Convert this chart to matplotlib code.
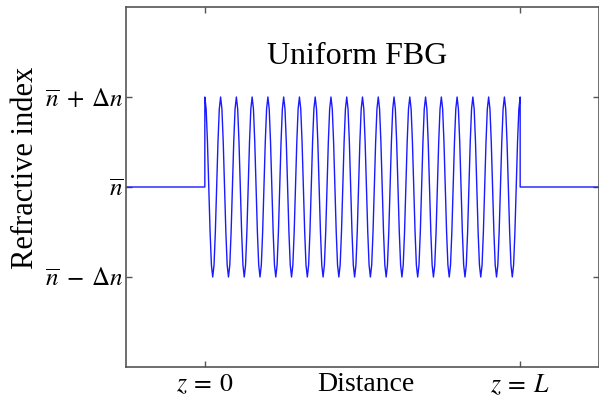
import numpy as np
import matplotlib
matplotlib.use("Agg")
import matplotlib.pyplot as plt

# values
n_bar = 0.0
delta_n = 1.0
z_start = 0.0
z_end = 1.0
n_periods = 20
x_limits = [-0.25, 1.25]
y_limits = [-2.0, 2.0]
x_ticks = [0.0, 1.0]
x_tick_labels = [r"$z\:=\:0$", r"$z\:=\:L$"]
y_ticks = [-1.0, 0.0, 1.0]
y_tick_labels = [r"$\overline{n}\;-\;\Delta n$", r"$\overline{n}$", r"$\overline{n}\;+\;\Delta n$"]
title_text = "Uniform FBG"
x_label = "Distance"
y_label = "Refractive index"

plt.rcParams["mathtext.fontset"] = "stix"
plt.rcParams["font.family"] = ["Liberation Serif", "DejaVu Serif"]

z_grating = np.linspace(z_start, z_end, n_periods * 12 + 1)
n_grating = n_bar + delta_n * np.cos(2 * np.pi * n_periods * (z_grating - z_start) / (z_end - z_start))
z = np.concatenate([[x_limits[0], z_start], z_grating, [z_end, x_limits[1]]])
n = np.concatenate([[n_bar, n_bar], n_grating, [n_bar, n_bar]])

fig = plt.figure(figsize=(5.99, 4.04), dpi=100)
ax = fig.add_axes([126 / 599, 37 / 404, 473 / 599, 360 / 404])
ax.plot(z, n, color="#1a1aff", lw=1.0)
ax.set_xlim(x_limits)
ax.set_ylim(y_limits)
ax.set_xticks(x_ticks)
ax.set_xticklabels(x_tick_labels, fontsize=18.5)
ax.set_yticks(y_ticks)
ax.set_yticklabels(y_tick_labels, fontsize=18)
ax.tick_params(direction="in", top=True, right=True, length=4, width=1, color="#555555")
ax.tick_params(axis="y", pad=1.5)
ax.tick_params(axis="x", pad=4)
for s in ax.spines.values():
    s.set_color("#555555")
    s.set_linewidth(1.2)
ax.set_xlabel(x_label, fontsize=20)
ax.xaxis.set_label_coords((366 - 126) / 473, -(372 - 367) / 360, transform=ax.transAxes)
ax.set_ylabel(y_label, fontsize=22)
ax.yaxis.set_label_coords(-(126 - 40) / 473, (367 - 168) / 360)
ax.text((357 - 126) / 473, (367 - 57) / 360, title_text, transform=ax.transAxes,
        ha="center", va="center", fontsize=23)
fig.savefig("out.png", dpi=100)
